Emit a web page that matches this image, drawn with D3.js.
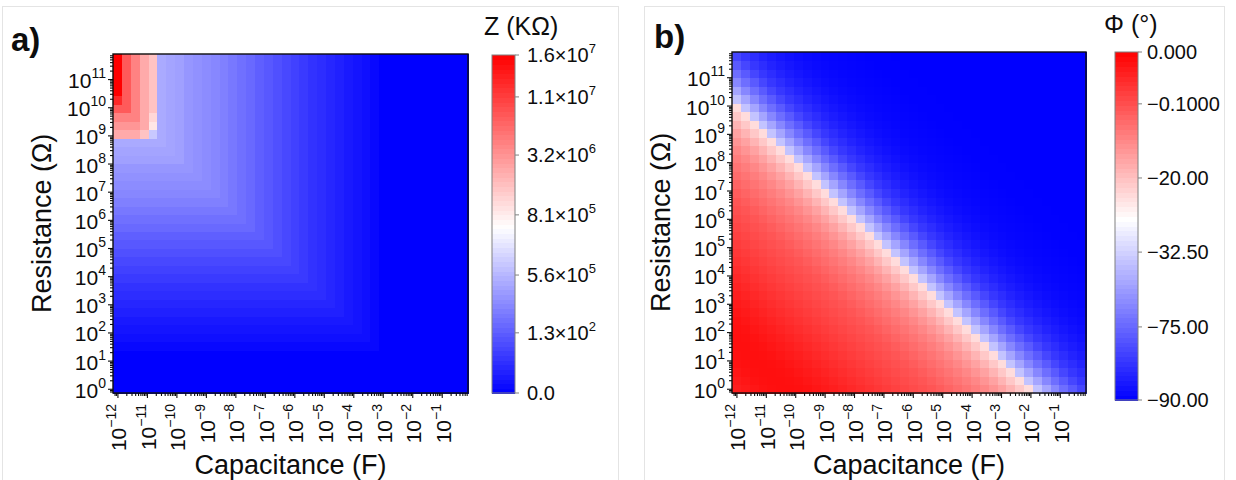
<!DOCTYPE html>
<html><head><meta charset="utf-8">
<script src="https://cdn.jsdelivr.net/npm/d3@7"></script>
<style>
html,body{margin:0;padding:0;background:#fff;}
svg{display:block;font-family:"Liberation Sans",Arial,Helvetica,sans-serif;}
</style></head><body>
<svg id="chart" width="1236" height="480"></svg>
<script>
// ================= DATA =================
// Column centres: capacitance (F)
const capacitance = [1e-12,2e-12,4e-12,8e-12,1.6e-11,3.2e-11,6.4e-11,1.28e-10,2.56e-10,5.12e-10,
  1.024e-9,2.048e-9,4.096e-9,8.192e-9,1.6384e-8,3.2768e-8,6.5536e-8,1.31072e-7,2.62144e-7,5.24288e-7,
  1.048576e-6,2.097152e-6,4.194304e-6,8.388608e-6,1.6777216e-5,3.3554432e-5,6.7108864e-5,1.34217728e-4,2.68435456e-4,5.36870912e-4,
  1.073741824e-3,2.147483648e-3,4.294967296e-3,8.589934592e-3,1.7179869184e-2,3.4359738368e-2,6.8719476736e-2,1.37438953472e-1,2.74877906944e-1,5.49755813888e-1];
// Row centres: resistance (Ω), bottom -> top
const resistance = [1,2,4,8,16,32,64,128,256,512,1024,2048,4096,8192,16384,32768,65536,131072,262144,524288,
  1048576,2097152,4194304,8388608,16777216,33554432,67108864,134217728,268435456,536870912,
  1073741824,2147483648,4294967296,8589934592,17179869184,34359738368,68719476736,137438953472,274877906944,549755813888];

const xTickExponents = [-12,-11,-10,-9,-8,-7,-6,-5,-4,-3,-2,-1];
const yTickExponents = [0,1,2,3,4,5,6,7,8,9,10,11];

// Panel a: |Z| (KΩ), coded per cell (rows top -> bottom, "c{n}" = c repeated n times)
const zLevelCodes  = "0123456789abcdefghijklmnopqrstuvwxzZ".split("");
const zLevelValues = [0,11,21,28,35,45,53,63,70,81,
  91,101,112,123,15000,78000,122000,172000,223000,267000,298000,329000,361000,424000,452000,484000,
  610000,990000,1390000,1930000,2610000,3150000,4830000,8460000,12800000,16000000];
const zRows = [
  "Zxwutponmlkjihgfedcba9876543210{10}",
  "Zxwutponmlkjihgfedcba9876543210{10}",
  "Zxwutponmlkjihgfedcba9876543210{10}",
  "Zxwutponmlkjihgfedcba9876543210{10}",
  "Zxwutponmlkjihgfedcba9876543210{10}",
  "zxwutponmlkjihgfedcba9876543210{10}",
  "xxwutponmlkjihgfedcba9876543210{10}",
  "wwwusponmlkjihgfedcba9876543210{10}",
  "vvvurponmlkjihgfedcba9876543210{10}",
  "uuutqponmlkjihgfedcba9876543210{10}",
  "p{6}onmlkjihgfedcba9876543210{10}",
  "o{7}nmlkjihgfedcba9876543210{10}",
  "n{8}mlkjihgfedcba9876543210{10}",
  "m{9}lkjihgfedcba9876543210{10}",
  "l{10}kjihgfedcba9876543210{10}",
  "k{11}jihgfedcba9876543210{10}",
  "j{12}ihgfedcba9876543210{10}",
  "i{13}hgfedcba9876543210{10}",
  "h{14}gfedcba9876543210{10}",
  "g{15}fedcba9876543210{10}",
  "f{16}edcba9876543210{10}",
  "e{17}dcba9876543210{10}",
  "d{18}cba9876543210{10}",
  "c{19}ba9876543210{10}",
  "b{20}a9876543210{10}",
  "a{21}9876543210{10}",
  "9{22}876543210{10}",
  "8{23}76543210{10}",
  "7{24}6543210{10}",
  "6{25}543210{10}",
  "5{26}43210{10}",
  "4{27}3210{10}",
  "3{28}210{10}",
  "2{29}10{10}",
  "1{30}0{10}",
  "0{40}","0{40}","0{40}","0{40}","0{40}"
];

// Panel b: phase (°) read along each anti-diagonal (cells with equal R·C), from bottom-left to top-right corner
const phaseDiagonal = [
  -0.038,-0.033,-0.028,-0.023,-0.020,-0.019,-0.019,-0.020,-0.023,-0.028,
  -0.033,-0.038,-0.044,-0.050,-0.057,-0.063,-0.070,-0.076,-0.082,-0.088,
  -0.095,-0.25,-1.1,-2.4,-3.8,-5.2,-6.6,-8.2,-9.9,-12.2,
  -14.7,-17.8,-20.9,-23.1,-37.9,-50.0,-62.1,-72.2,-76.9,-79.8,
  -82.0,-83.4,-84.9,-85.9,-86.8,-87.5,-88.1,-88.5,-88.8,-89.1,
  -89.3,-89.4,-89.6,-89.7,-89.8,-89.9,-89.9,-90,-90,-90,
  -90,-90,-90,-90,-90,-90,-90,-90,-90,-90,
  -90,-90,-90,-90,-90,-90,-90,-90,-90];

// Colour-bar levels and labels
const zBarTicks  = [0, 1.3e2, 5.6e5, 8.1e5, 3.2e6, 1.1e7, 1.6e7];
const zBarLabels = [["0.0",""],["1.3×10","2"],["5.6×10","5"],["8.1×10","5"],["3.2×10","6"],["1.1×10","7"],["1.6×10","7"]];
const phiBarTicks  = [-90, -75, -32.5, -20, -0.1, 0];
const phiBarLabels = [["−90.00",""],["−75.00",""],["−32.50",""],["−20.00",""],["−0.1000",""],["0.000",""]];

// ================= BUILD TABLES =================
function decodeRow(s){ return s.replace(/(.)\{(\d+)\}/g,(m,c,n)=>c.repeat(+n)); }
const zTable = [];
zRows.forEach((s,t)=>{
  const row = decodeRow(s);
  const j = resistance.length-1-t;
  for(let i=0;i<capacitance.length;i++){
    const code = row[Math.min(i,row.length-1)];
    zTable.push({i, j, c: capacitance[i], r: resistance[j], v: zLevelValues[zLevelCodes.indexOf(code)]});
  }
});
const phiTable = [];
for(let j=0;j<resistance.length;j++) for(let i=0;i<capacitance.length;i++)
  phiTable.push({i, j, c: capacitance[i], r: resistance[j], v: phaseDiagonal[i+j]});

// ================= DRAW =================
const svg = d3.select("#chart");
const INK = "#0d0d0d";

// light panel boxes
svg.append("rect").attr("x",2.5).attr("y",6.5).attr("width",616).attr("height",480).attr("fill","none").attr("stroke","#e4e4e4");
svg.append("rect").attr("x",644.5).attr("y",6.5).attr("width",580).attr("height",480).attr("fill","none").attr("stroke","#e4e4e4");

function edges(arr){
  const n = arr.length;
  return arr.map((v,k)=>{
    const lo = k>0 ? Math.sqrt(arr[k-1]*v) : v*v/Math.sqrt(v*arr[1]);
    const hi = k<n-1 ? Math.sqrt(v*arr[k+1]) : v*v/Math.sqrt(arr[n-2]*v);
    return [lo,hi];
  });
}
const cEdges = edges(capacitance), rEdges = edges(resistance);

function drawPanel(cfg){
  const g = svg.append("g");
  const x = d3.scaleLog().domain([cEdges[0][0], cEdges[cEdges.length-1][1]]).range([cfg.left, cfg.right]);
  const y = d3.scaleLog().domain([rEdges[0][0], rEdges[rEdges.length-1][1]]).range([cfg.bottom, cfg.top]);
  const pos = d3.scaleLinear().domain(cfg.ticks).range(cfg.stops).clamp(true);
  const col = d3.scaleLinear().domain([0, cfg.white, 1]).range(["#0000ff","#ffffff","#ff0000"]).interpolate(d3.interpolateRgb);

  // cells
  g.append("g").attr("shape-rendering","crispEdges").selectAll("rect").data(cfg.table).join("rect")
    .attr("x", d=>x(cEdges[d.i][0]))
    .attr("y", d=>y(rEdges[d.j][1]))
    .attr("width", d=>x(cEdges[d.i][1])-x(cEdges[d.i][0])+0.6)
    .attr("height", d=>y(rEdges[d.j][0])-y(rEdges[d.j][1])+0.6)
    .attr("fill", d=>col(pos(d.v)));

  // ticks
  const [dx0,dx1] = x.domain(), [dy0,dy1] = y.domain();
  const minors = (lo,hi)=>{ const out=[]; for(let e=Math.floor(Math.log10(lo))-1;e<=Math.ceil(Math.log10(hi));e++) for(let m=2;m<=9;m++){const v=m*Math.pow(10,e); if(v>lo&&v<hi) out.push(v);} return out; };
  const xMaj = xTickExponents.map(e=>Math.pow(10,e)), yMaj = yTickExponents.map(e=>Math.pow(10,e));
  const styleAxis = a=>{ a.select(".domain").remove(); a.selectAll("line").attr("stroke",INK).attr("stroke-width",1.1); };
  g.append("g").attr("transform",`translate(0,${cfg.bottom})`).call(d3.axisBottom(x).tickValues(xMaj).tickSize(5).tickFormat(()=>"")).call(styleAxis);
  g.append("g").attr("transform",`translate(0,${cfg.bottom})`).call(d3.axisBottom(x).tickValues(minors(dx0,dx1)).tickSize(3).tickFormat(()=>"")).call(styleAxis);
  g.append("g").attr("transform",`translate(${cfg.left},0)`).call(d3.axisLeft(y).tickValues(yMaj).tickSize(5).tickFormat(()=>"")).call(styleAxis);
  g.append("g").attr("transform",`translate(${cfg.left},0)`).call(d3.axisLeft(y).tickValues(minors(dy0,dy1)).tickSize(3).tickFormat(()=>"")).call(styleAxis);

  // frame
  g.append("rect").attr("x",cfg.left).attr("y",cfg.top).attr("width",cfg.right-cfg.left).attr("height",cfg.bottom-cfg.top)
    .attr("fill","none").attr("stroke",INK).attr("stroke-width",1.4);

  // y tick labels
  g.selectAll("text.yl").data(yTickExponents).join("text").attr("class","yl")
    .attr("x", cfg.left-7).attr("y", d=>y(Math.pow(10,d))+9)
    .attr("text-anchor","end").attr("font-size",21).attr("fill",INK)
    .each(function(d){ const t=d3.select(this); t.append("tspan").text("10"); t.append("tspan").attr("dy",-10).attr("font-size",14).text(String(d)); });
  // x tick labels (rotated)
  g.selectAll("text.xl").data(xTickExponents).join("text").attr("class","xl")
    .attr("transform", d=>`translate(${x(Math.pow(10,d))+9},${cfg.bottom+11}) rotate(-90)`)
    .attr("text-anchor","end").attr("font-size",21).attr("fill",INK)
    .each(function(d){ const t=d3.select(this); t.append("tspan").text("10"); t.append("tspan").attr("dy",-10).attr("font-size",14).text("−"+Math.abs(d)); });

  // axis titles
  g.append("text").attr("x",(cfg.left+cfg.right)/2).attr("y",474).attr("text-anchor","middle").attr("font-size",27).attr("fill",INK).text("Capacitance (F)");
  g.append("text").attr("transform",`translate(${cfg.left-62},${(cfg.top+cfg.bottom)/2}) rotate(-90)`).attr("text-anchor","middle").attr("font-size",27).attr("fill",INK).text("Resistance (Ω)");

  // panel letter
  g.append("text").attr("x",cfg.letterX).attr("y",cfg.letterY).attr("font-size",33).attr("font-weight","bold").attr("fill",INK).text(cfg.letter);

  // colour bar
  const cb = cfg.bar;
  const cy = d3.scaleLinear().domain([0,1]).range([cb.bottom, cb.top]);
  const N = 72;
  g.append("g").attr("shape-rendering","crispEdges").selectAll("rect").data(d3.range(N)).join("rect")
    .attr("x",cb.x).attr("width",cb.w)
    .attr("y", k=>cy((k+1)/N)).attr("height", k=>cy(k/N)-cy((k+1)/N)+0.6)
    .attr("fill", k=>col((k+0.5)/N));
  g.append("rect").attr("x",cb.x).attr("y",cb.top).attr("width",cb.w).attr("height",cb.bottom-cb.top)
    .attr("fill","none").attr("stroke","#808080").attr("stroke-width",1);
  const tickG = g.append("g");
  cfg.ticks.forEach((v,k)=>{
    const yy = cy(pos(v));
    tickG.append("line").attr("x1",cb.x+cb.w).attr("x2",cb.x+cb.w+4).attr("y1",yy).attr("y2",yy).attr("stroke","#808080").attr("stroke-width",1);
    const t = tickG.append("text").attr("x",cb.x+cb.w+cb.labelGap).attr("y",yy+7).attr("font-size",20).attr("fill",INK);
    t.append("tspan").text(cfg.labels[k][0]);
    if(cfg.labels[k][1]) t.append("tspan").attr("dy",-9).attr("font-size",13).text(cfg.labels[k][1]);
  });
  g.append("text").attr("x",cb.titleX).attr("y",cb.titleY).attr("font-size",25).attr("fill",INK).text(cb.title);
}

drawPanel({
  table: zTable, left:113, right:468, top:54, bottom:393,
  ticks: zBarTicks, stops:[0,0.178,0.349,0.527,0.704,0.876,1], white:0.49, labels: zBarLabels,
  letter:"a)", letterX:11, letterY:51,
  bar:{x:492, w:23, top:55, bottom:393, labelGap:12, title:"Z (KΩ)", titleX:484, titleY:35}
});
drawPanel({
  table: phiTable, left:732, right:1086, top:52, bottom:393,
  ticks: phiBarTicks, stops:[0,0.21,0.425,0.638,0.851,1], white:0.52, labels: phiBarLabels,
  letter:"b)", letterX:654, letterY:48,
  bar:{x:1115, w:23, top:52, bottom:400, labelGap:9, title:"Φ (°)", titleX:1104, titleY:33}
});
</script>
</body></html>
